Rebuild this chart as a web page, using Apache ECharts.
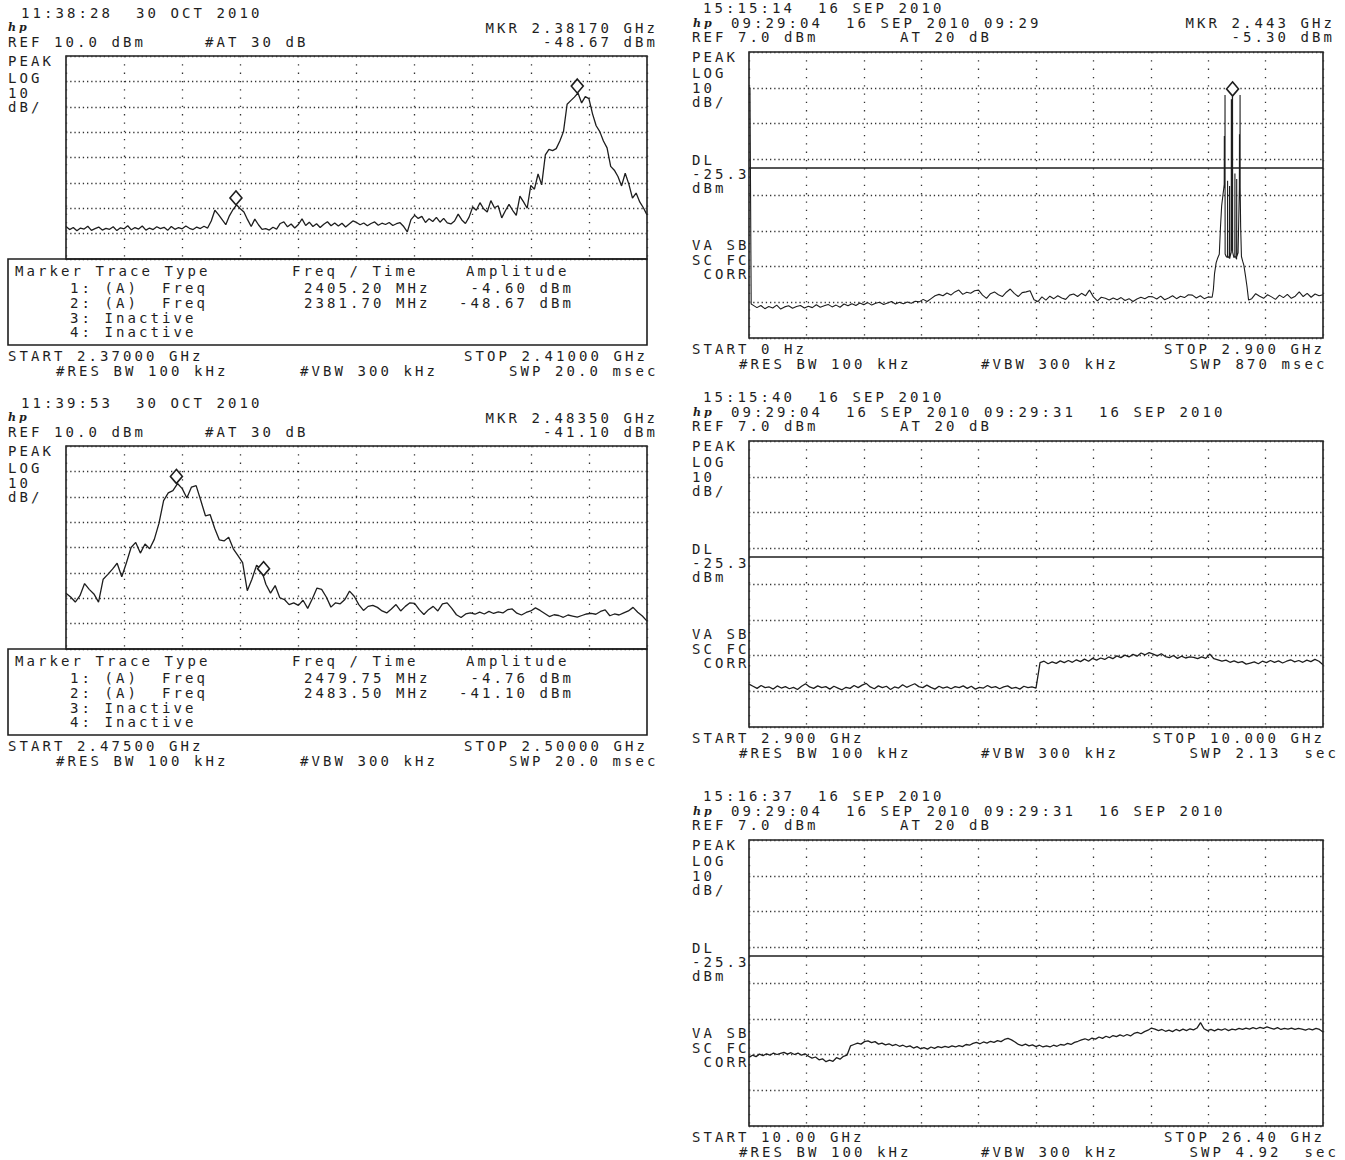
<!DOCTYPE html>
<html><head><meta charset="utf-8">
<script src="https://cdn.jsdelivr.net/npm/echarts@6/dist/echarts.min.js"></script>
<style>
html,body{margin:0;padding:0;background:#fff;}
#c{width:1345px;height:1160px;}
#c svg text{letter-spacing:3.07px;}
</style></head><body><div id="c"></div>
<script>
// ===================== DATA =====================
// Panel 1 (top-left): 2370 - 2410 MHz, dBm
const p1Start = 2370, p1Stop = 2410;
const p1Level = [
-57.2,-58.4,-57.6,-58.9,-57.8,-58.2,-57.1,-58.7,-58.0,-57.4,
-58.6,-57.9,-58.3,-57.3,-58.8,-57.7,-58.1,-56.9,-58.5,-57.6,
-58.2,-57.0,-58.6,-57.8,-58.4,-57.3,-58.0,-57.5,-58.7,-57.2,
-58.3,-57.6,-58.1,-57.0,-57.9,-58.4,-57.4,-58.0,-57.1,-57.8,
-55.0,-50.8,-52.5,-54.5,-56.5,-53.0,-50.5,-48.7,-50.2,-51.5,
-54.5,-57.2,-54.3,-56.5,-58.3,-58.0,-58.6,-57.5,-58.2,-56.0,
-55.4,-57.3,-56.2,-57.8,-56.4,-54.2,-56.8,-55.5,-57.2,-56.1,
-57.6,-56.3,-55.3,-56.9,-55.8,-57.0,-55.9,-57.4,-56.2,-55.0,
-55.6,
-56.5,-55.8,-56.9,-56.0,-55.4,-56.7,-55.9,-56.4,-55.6,-56.8,-56.1,-55.7,-57.2,-59.3,
-54.5,-52.8,-54.0,-53.2,-55.6,-54.1,-55.2,-53.6,-55.5,-54.0,-55.8,-56.2,-55.0,-52.3,-54.6,-56.0,-53.5,
-49.5,-50.8,-47.8,-50.2,-51.5,-47.0,-49.8,-49.0,-53.8,-51.0,-48.5,-50.8,-52.8,-45.2,-47.5,-50.0,
-41.0,-42.5,-36.5,-40.8,-29.0,-26.8,-27.3,-26.5,-23.5,-19.8,-9.0,-7.6,-6.2,-4.6,-8.5,-6.0,-6.8,
-12.8,-17.5,-19.8,-23.5,-26.2,-33.5,-35.0,-37.5,-41.2,-36.2,-40.5,-46.0,-44.0,-47.5,-49.8,-52.6
];
const p1Markers = [[2405.20, -4.60], [2381.70, -48.67]];

// Panel 2 (middle-left): 2475 - 2500 MHz, dBm
const p2Start = 2475, p2Stop = 2500;
const p2Level = [
-48.0,-49.5,-51.5,-49.0,-44.2,-46.5,-48.3,-51.5,-42.5,-40.6,
-38.5,-36.2,-41.5,-36.0,-30.0,-28.0,-32.2,-28.6,-30.5,-26.8,
-20.5,-11.5,-8.5,-7.6,-4.8,-6.8,-10.5,-6.2,-5.6,-11.5,
-17.5,-17.0,-22.5,-27.0,-27.4,-26.0,-30.5,-33.2,-36.0,-47.0,
-42.5,-37.0,-38.5,-44.5,-48.0,-45.0,-49.8,-50.5,-52.5,-51.8,
-52.8,-50.8,-54.0,-50.2,-46.0,-46.5,-49.5,-53.5,-51.8,-52.2,
-50.5,-47.2,-49.2,-52.5,-54.8,-53.2,-52.8,-53.6,-55.0,-55.8,
-54.2,-52.5,-55.0,-53.2,-51.8,-52.0,-54.5,-56.4,-54.5,-53.2,
-55.0,-52.2,-51.8,-54.0,-56.5,-57.6,-56.2,-55.8,-56.3,-55.5,
-56.2,-55.2,-56.0,-55.4,-55.8,-54.5,-54.2,-55.9,-56.6,-55.6,
-55.0,-53.8,-54.8,-56.0,-57.2,-56.5,-56.8,-57.5,-56.6,-57.0,
-57.4,-56.8,-56.2,-56.0,-56.3,-55.2,-54.6,-56.9,-56.2,-56.6,
-55.8,-55.0,-53.6,-55.5,-57.0,-59.0
];
const p2Markers = [[2479.75, -4.76], [2483.50, -41.10]];

// Panel 3 (top-right): 0 - 2900 MHz, floor every 20 MHz (null = see detail lists)
const p3Start = 0, p3Stop = 2900;
const p3Floor = [
null,-63.8,-64.5,-63.9,-64.8,-64.2,-64.6,-63.8,-64.9,-64.3,
-64.0,-64.7,-64.2,-63.9,-64.6,-64.1,-64.5,-63.7,-64.4,-64.0,
-63.6,-64.3,-63.8,-64.4,-63.5,-64.0,-63.4,-63.9,-63.2,-63.7,
-63.1,-63.8,-63.3,-63.0,-63.6,-63.2,-62.8,-63.5,-63.0,-63.4,
-62.9,-63.3,-62.7,-62.9,-62.2,-62.8,-62.0,-61.2,-60.8,-61.2,
-60.4,-61.0,-60.1,-59.6,-60.8,-60.2,-60.5,-59.8,-59.6,-61.0,
-61.9,-60.6,-60.1,-60.9,-61.4,-60.2,-59.3,-60.5,-61.4,-60.3,
-60.1,-59.8,-62.3,-62.8,-61.5,-62.4,-61.3,-62.0,-61.2,-61.8,
-62.2,-61.0,-60.7,-61.4,-60.5,-61.2,-59.6,-61.5,-62.6,-61.6,
-61.9,-62.4,-61.8,-62.3,-61.7,-62.5,-62.0,-62.8,-62.1,-61.6,
-62.0,-61.4,-61.5,-62.1,-61.3,-62.3,-61.8,-61.2,-62.0,-61.3,
-61.7,-60.9,-61.0,-61.8,-61.2,-62.0,-61.5,
null,null,null,null,null,null,null,null,null,null,
-62.0,-60.6,-61.3,-61.9,-60.9,-61.5,-62.2,-61.0,-61.7,-60.8,
-61.9,-61.3,-60.1,-61.4,-60.5,-61.6,-60.7,-61.2,-60.9
];
// LO feedthrough near 0 Hz: [MHz, dBm]
const p3Lo = [[0,-3.0],[5,-3.0],[8,-34.0],[11,-63.5]];
// 2.4 GHz band detail: [MHz, dBm]
const p3Band = [
[2340,-61.6],[2346,-59.5],[2352,-55.0],[2360,-52.0],[2368,-50.6],[2376,-49.6],[2382,-42.0],[2388,-36.0],
[2394,-33.2],[2399,-31.0],[2401,-30.0],[2401.5,-16.5],[2402,-30.5],[2404.5,-31.0],[2405,-5.0],[2405.5,-49.5],
[2411,-50.2],[2417.5,-50.5],[2418,-29.0],[2418.5,-50.0],[2425,-50.6],[2427.5,-50.4],[2428,-30.5],[2428.5,-50.8],
[2434,-49.5],[2436.5,-49.0],[2437,-6.2],[2437.5,-48.5],[2441.5,-48.0],[2442,-5.6],[2443,-5.3],[2443.5,-49.0],
[2450,-50.5],[2454.5,-50.2],[2455,-27.0],[2455.5,-50.0],[2463.5,-51.0],[2464,-28.5],[2464.5,-50.2],
[2471,-49.2],[2477.5,-31.0],[2478,-16.0],[2478.5,-30.5],[2480.5,-30.0],[2481,-5.0],[2481.5,-31.0],
[2484,-42.0],[2488,-50.2],[2494,-51.5],[2500,-52.6],[2508,-55.5],[2516,-58.6],[2524,-62.4]
];
const p3Markers = [[2443, -5.30]];

// Panel 4 (middle-right): 2.9 - 10 GHz
const p4Start = 2.9, p4Stop = 10.0;
const p4Level = [
-61.0,-61.6,-62.2,-61.4,-62.0,-61.8,-62.4,-61.5,-62.1,-61.7,
-62.3,-61.9,-62.5,-61.6,-60.9,-61.8,-62.2,-61.5,-62.0,-61.7,
-62.4,-61.6,-62.1,-62.6,-61.9,-62.2,-61.4,-62.0,-61.3,-60.8,
-61.8,-62.3,-61.5,-62.0,-61.6,-62.5,-61.8,-62.1,-61.2,-61.9,
-61.4,-60.9,-61.7,-62.0,-61.3,-61.9,-62.4,-61.6,-62.1,-61.8,
-62.3,-61.7,-62.0,-61.5,-62.2,-61.6,-62.4,-61.9,-62.1,-61.4,
-62.0,-61.7,-62.3,-61.8,-61.5,-62.2,-61.9,-62.4,-61.6,-62.0,
-61.8,-62.1,
-55.0,-54.6,-55.3,-54.8,-55.2,-54.5,-55.0,-54.4,
-54.9,-54.2,-54.7,-54.0,-54.6,-53.8,-54.3,-53.7,-54.1,-53.4,
-53.9,-53.1,-53.6,-52.9,-53.4,-52.7,-53.2,-52.3,-52.8,-52.2,
-52.6,-53.1,-52.5,-53.3,-53.6,-53.0,-53.8,-53.2,-53.7,-53.4,
-53.5,-53.9,-53.4,-53.8,-52.6,-53.9,-54.2,-54.6,-54.3,-54.9,
-54.5,-55.0,-54.7,-55.4,-55.1,-54.8,-55.3,-54.6,-55.0,-54.4,
-54.9,-54.5,-55.1,-54.6,-54.2,-54.8,-54.4,-54.9,-54.3,-54.7,
-54.1,-54.6,-55.6
];

// Panel 5 (bottom-right): 10 - 26.4 GHz
const p5Start = 10.0, p5Stop = 26.4;
const p5Level = [
-53.8,-53.2,-53.6,-52.9,-53.3,-52.8,-53.2,-52.6,-53.0,-52.7,
-52.4,-52.9,-52.5,-53.0,-52.6,-53.2,-52.8,-53.5,-54.0,-53.7,
-54.5,-54.2,-55.0,-54.6,-54.9,-53.9,-54.3,-53.5,-53.2,-50.6,
-50.2,-49.8,-50.1,-49.4,-49.2,-49.7,-49.4,-50.1,-49.8,-50.3,
-50.0,-50.5,-50.2,-50.7,-50.4,-50.9,-50.6,-51.2,-50.8,-51.4,
-51.1,-51.5,-50.9,-51.3,-50.8,-51.1,-50.7,-51.0,-50.6,-50.9,
-50.5,-50.8,-50.2,-50.4,-49.9,-49.6,-50.0,-49.5,-49.8,-49.3,
-49.6,-49.1,-49.4,-48.8,-48.5,-48.9,-49.5,-50.2,-50.5,-50.1,
-50.6,-50.3,-50.8,-50.4,-50.9,-50.6,-50.9,-50.4,-50.7,-50.2,
-50.4,-49.9,-50.2,-49.6,-49.3,-48.9,-48.6,-49.0,-48.4,-48.7,
-48.1,-48.5,-47.9,-48.3,-47.7,-48.0,-47.5,-47.9,-47.4,-47.8,
-47.1,-46.8,-47.2,-46.6,-46.2,-45.6,-45.9,-46.3,-46.0,-46.5,
-46.2,-46.6,-46.0,-46.4,-45.9,-46.3,-45.8,-46.1,-45.6,-44.1,
-45.8,-46.3,-46.0,-46.4,-45.9,-46.2,-45.8,-46.3,-45.9,-46.1,
-45.7,-46.0,-45.6,-45.9,-45.5,-45.8,-45.4,-45.7,-45.3,-45.6,
-45.9,-45.5,-46.0,-45.7,-45.9,-45.6,-46.0,-45.7,-45.9,-46.2,
-45.8,-46.1,-45.7,-46.0,-46.7
];

const displayLine = -25.3;

// ===================== TEXT =====================
const sideLabelsLeft = ['PEAK', 'LOG', '10', 'dB/'];
const sideLabelsRight = ['PEAK', 'LOG', '10', 'dB/', 'DL', '-25.3', 'dBm', 'VA SB', 'SC FC', 'CORR'];
const tableHead = ['Marker Trace Type', 'Freq / Time', 'Amplitude'];

const p1Header = ['11:38:28  30 OCT 2010', 'MKR 2.38170 GHz', 'REF 10.0 dBm', '#AT 30 dB', '-48.67 dBm'];
const p1Table = [['1: (A)  Freq', '2405.20 MHz', '-4.60 dBm'], ['2: (A)  Freq', '2381.70 MHz', '-48.67 dBm'], ['3: Inactive', '', ''], ['4: Inactive', '', '']];
const p1Footer = ['START 2.37000 GHz', 'STOP 2.41000 GHz', '#RES BW 100 kHz', '#VBW 300 kHz', 'SWP 20.0 msec'];

const p2Header = ['11:39:53  30 OCT 2010', 'MKR 2.48350 GHz', 'REF 10.0 dBm', '#AT 30 dB', '-41.10 dBm'];
const p2Table = [['1: (A)  Freq', '2479.75 MHz', '-4.76 dBm'], ['2: (A)  Freq', '2483.50 MHz', '-41.10 dBm'], ['3: Inactive', '', ''], ['4: Inactive', '', '']];
const p2Footer = ['START 2.47500 GHz', 'STOP 2.50000 GHz', '#RES BW 100 kHz', '#VBW 300 kHz', 'SWP 20.0 msec'];

const p3Header = ['15:15:14  16 SEP 2010', '09:29:04  16 SEP 2010 09:29', 'MKR 2.443 GHz', 'REF 7.0 dBm', 'AT 20 dB', '-5.30 dBm'];
const p3Footer = ['START 0 Hz', 'STOP 2.900 GHz', '#RES BW 100 kHz', '#VBW 300 kHz', 'SWP 870 msec'];
const p4Header = ['15:15:40  16 SEP 2010', '09:29:04  16 SEP 2010 09:29:31  16 SEP 2010', '', 'REF 7.0 dBm', 'AT 20 dB', ''];
const p4Footer = ['START 2.900 GHz', 'STOP 10.000 GHz', '#RES BW 100 kHz', '#VBW 300 kHz', 'SWP 2.13  sec'];
const p5Header = ['15:16:37  16 SEP 2010', '09:29:04  16 SEP 2010 09:29:31  16 SEP 2010', '', 'REF 7.0 dBm', 'AT 20 dB', ''];
const p5Footer = ['START 10.00 GHz', 'STOP 26.40 GHz', '#RES BW 100 kHz', '#VBW 300 kHz', 'SWP 4.92  sec'];

// ===================== BUILD =====================
function sweep(start, stop, levels) {
  const step = (stop - start) / (levels.length - 1);
  const out = [];
  levels.forEach((v, i) => { if (v !== null) out.push([start + i * step, v]); });
  return out;
}
const p3Data = sweep(p3Start, p3Stop, p3Floor).concat(p3Lo, p3Band).sort((a, b) => a[0] - b[0]);

const INK = '#1e1e1e';
const FONT = '14px "DejaVu Sans Mono", "Liberation Mono", monospace';
const PITCH = 11.5, LS = 3.07;
const graphics = [];
function txt(s, x, y) {
  if (!s) return;
  graphics.push({ type: 'text', x: x, y: y, silent: true, z: 10,
    style: { text: s.replace(/ /g, '\u00a0'), font: FONT, fill: INK, align: 'left', verticalAlign: 'middle' } });
}
function txtR(s, xEnd, y) { if (s) txt(s, xEnd - (s.length * PITCH - LS), y); }
function logo(x, y) {
  graphics.push({ type: 'text', x: x, y: y, silent: true, z: 10,
    style: { text: 'hp', font: 'italic bold 11px "DejaVu Serif", serif', fill: INK, align: 'left', verticalAlign: 'middle' } });
}

const grids = [], xAxes = [], yAxes = [], series = [];
const dotH = [1.3, 2.9], dotV = [1.3, 7];
function addPlot(box, xr, yr, data, markers, dl, lw) {
  const k = grids.length;
  grids.push({ left: box[0], top: box[1], width: box[2], height: box[3], show: true,
    borderColor: INK, borderWidth: 1.6, backgroundColor: 'rgba(0,0,0,0)' });
  xAxes.push({ gridIndex: k, type: 'value', min: xr[0], max: xr[1], interval: (xr[1] - xr[0]) / 10,
    axisLine: { show: false }, axisTick: { show: false }, axisLabel: { show: false },
    splitLine: { show: true, lineStyle: { color: '#333', width: 1.3, type: dotV } } });
  yAxes.push({ gridIndex: k, type: 'value', min: yr[0], max: yr[1], interval: 10,
    axisLine: { show: false }, axisTick: { show: false }, axisLabel: { show: false },
    splitLine: { show: true, lineStyle: { color: '#333', width: 1.3, type: dotH } } });
  const s = { type: 'line', xAxisIndex: k, yAxisIndex: k, data: data, showSymbol: false, symbol: 'none',
    lineStyle: { color: INK, width: lw || 1.3 }, z: 3, silent: true };
  if (markers) s.markPoint = { symbol: 'diamond', symbolSize: [12, 14], symbolOffset: [0, -7], silent: true,
    itemStyle: { color: '#fff', borderColor: INK, borderWidth: 1.6 }, label: { show: false },
    data: markers.map(m => ({ coord: m })) };
  if (dl !== undefined) s.markLine = { symbol: ['none', 'none'], silent: true, label: { show: false },
    lineStyle: { color: INK, width: 1.6, type: 'solid' }, data: [{ yAxis: dl }] };
  series.push(s);
}

function leftPanel(top, header, table, footer, xr, data, markers) {
  addPlot([66, top, 581, 203], xr, [-70, 10], data, markers);
  txt(header[0], 21, top - 43);
  logo(8, top - 29);
  txtR(header[1], 655, top - 28);
  txt(header[2], 8, top - 14);
  txt(header[3], 205, top - 14);
  txtR(header[4], 655, top - 14);
  const sy = [5, 21.5, 36.5, 50.5];
  sideLabelsLeft.forEach((s, i) => txt(s, 8, top + sy[i]));
  graphics.push({ type: 'rect', silent: true, z: 5, shape: { x: 8, y: top + 203, width: 639, height: 86 },
    style: { fill: 'none', stroke: INK, lineWidth: 1.6 } });
  txt(tableHead[0], 15, top + 215);
  txt(tableHead[1], 292, top + 215);
  txt(tableHead[2], 466, top + 215);
  const ry = [232, 247, 262, 276];
  table.forEach((r, i) => { txt(r[0], 70, top + ry[i]); txt(r[1], 304, top + ry[i]); txtR(r[2], 571, top + ry[i]); });
  txt(footer[0], 8, top + 300);
  txtR(footer[1], 645, top + 300);
  txt(footer[2], 56, top + 315);
  txt(footer[3], 300, top + 315);
  txt(footer[4], 509, top + 315);
}

function rightPanel(top, header, footer, xr, data, markers, lw) {
  addPlot([749, top, 574, 286], xr, [-73, 7], data, markers, displayLine, lw);
  txt(header[0], 703, top - 44);
  logo(693, top - 29);
  txt(header[1], 731, top - 29);
  txtR(header[2], 1332, top - 29);
  txt(header[3], 692, top - 15);
  txt(header[4], 900, top - 15);
  txtR(header[5], 1332, top - 15);
  const sy = [4.5, 21, 35.5, 50, 107.5, 122, 136, 192.5, 207.5, 222];
  sideLabelsRight.forEach((s, i) => txt(s, s === 'CORR' ? 703.5 : 692, top + sy[i]));
  txt(footer[0], 692, top + 296.5);
  txtR(footer[1], 1322, top + 296.5);
  txt(footer[2], 739, top + 311.5);
  txt(footer[3], 981, top + 311.5);
  txt(footer[4], 1189.5, top + 311.5);
}

leftPanel(56, p1Header, p1Table, p1Footer, [p1Start, p1Stop], sweep(p1Start, p1Stop, p1Level), p1Markers);
leftPanel(446, p2Header, p2Table, p2Footer, [p2Start, p2Stop], sweep(p2Start, p2Stop, p2Level), p2Markers);
rightPanel(52, p3Header, p3Footer, [p3Start, p3Stop], p3Data, p3Markers, 1.1);
rightPanel(441, p4Header, p4Footer, [p4Start, p4Stop], sweep(p4Start, p4Stop, p4Level));
rightPanel(840, p5Header, p5Footer, [p5Start, p5Stop], sweep(p5Start, p5Stop, p5Level));

const chart = echarts.init(document.getElementById('c'), null, { renderer: 'svg' });
chart.setOption({
  animation: false,
  backgroundColor: '#fff',
  grid: grids, xAxis: xAxes, yAxis: yAxes, series: series,
  graphic: { elements: graphics }
});
</script></body></html>
